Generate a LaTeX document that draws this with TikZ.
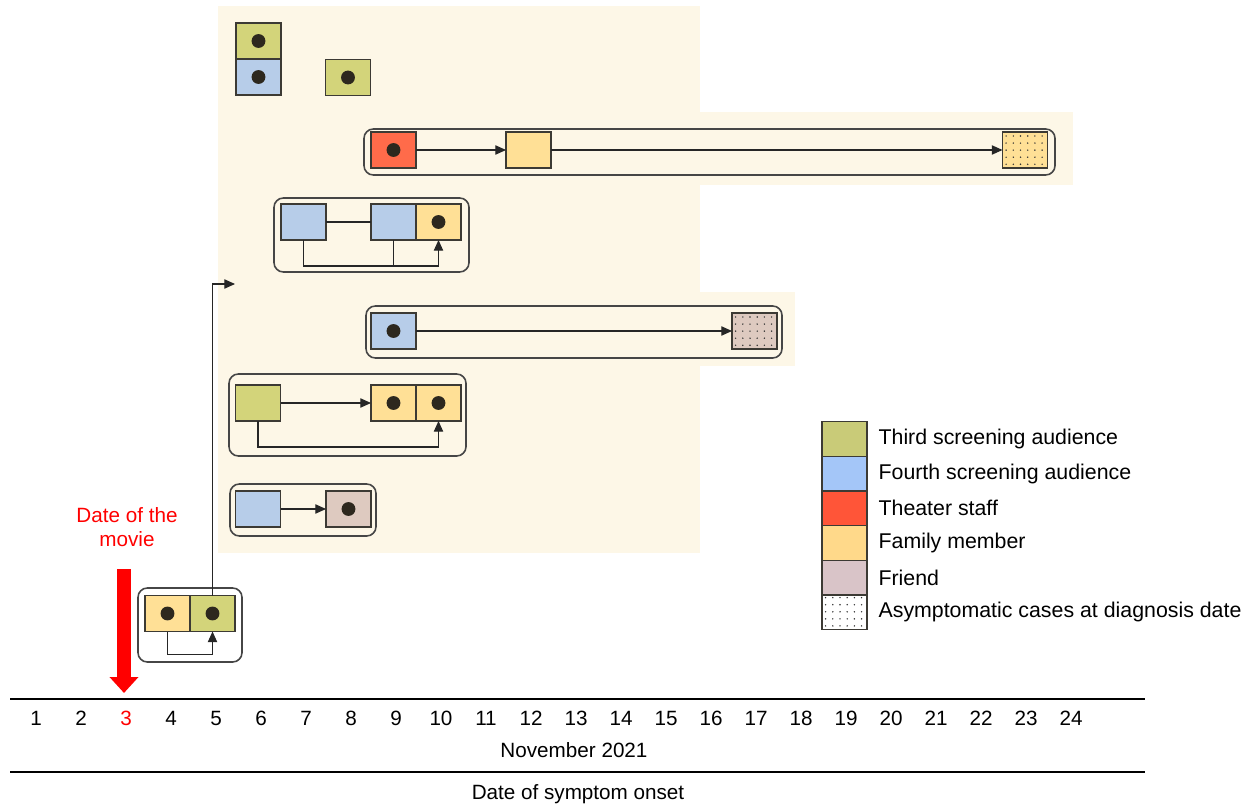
\documentclass[tikz,border=0pt]{standalone}
\usepackage{fontspec}
\setmainfont{Liberation Sans}
\usetikzlibrary{shapes,arrows,positioning,calc,arrows.meta}

\definecolor{cream}{RGB}{253,247,231}
\definecolor{boxline}{RGB}{60,58,52}
\definecolor{frameline}{RGB}{70,70,70}
\definecolor{dotcol}{RGB}{45,40,30}
\definecolor{cgreen}{RGB}{211,212,122}
\definecolor{cblue}{RGB}{183,205,233}
\definecolor{cred}{RGB}{255,107,74}
\definecolor{cyellow}{RGB}{255,224,150}
\definecolor{cfriend}{RGB}{222,202,192}
\definecolor{lgreen}{RGB}{201,203,120}
\definecolor{lblue}{RGB}{164,198,248}
\definecolor{lred}{RGB}{255,85,56}
\definecolor{lyellow}{RGB}{255,217,138}
\definecolor{lfriend}{RGB}{217,196,200}

\tikzset{
  case/.style={draw=boxline, line width=0.8pt, minimum width=33.75pt, minimum height=27pt, inner sep=0pt, outer sep=0pt},
  key/.style={case, minimum height=26pt},
  onset/.style={path picture={\fill[dotcol] (path picture bounding box.center) circle (5.2pt);}},
  asym/.style={path picture={
    \foreach \i in {1,...,6}{\foreach \j in {1,...,5}{
      \fill[black!80] ($(path picture bounding box.south west)+(\i*5.4pt-2.7pt,\j*5.3pt-2.5pt)$) circle (0.6pt);}}}},
  group/.style={draw=frameline, line width=1.2pt, rounded corners=7pt},
  link/.style={draw=black!85, line width=0.8pt, -{Triangle[length=8pt,width=7pt]}},
  plain/.style={draw=black!85, line width=0.8pt},
  txt/.style={font=\fontsize{15.5}{18.5}\selectfont, inner sep=0pt},
  legtxt/.style={font=\fontsize{16}{19}\selectfont, inner sep=0pt},
}

\begin{document}
\begin{tikzpicture}[x=0.75pt, y=-0.75pt]
\useasboundingbox (0,0) rectangle (1258,806);

% shaded period
\fill[cream] (218,6) rectangle (700,553);
\fill[cream] (218,112) rectangle (1073,185);
\fill[cream] (218,292) rectangle (795,366);

% clusters
\draw[group] (364,129) rectangle (1055,175);
\draw[group] (274,198) rectangle (469,272);
\draw[group] (366,306) rectangle (782,358);
\draw[group] (229,374) rectangle (466,456);
\draw[group] (230,484) rectangle (376,536);
\draw[group] (138,588) rectangle (242,662);

\node[case, fill=cgreen, onset] (t1) at (258.5,41) {};
\node[case, fill=cblue, onset, below=0pt of t1] (t2) {};
\node[case, fill=cgreen, onset] (t3) at (348,77.5) {};

\node[case, fill=cred, onset] (s1) at (393.5,150) {};
\node[case, fill=cyellow] (s2) at (528.5,150) {};
\node[case, fill=cyellow, asym] (s3) at (1025,150) {};
\draw[link] (s1) -- (s2);
\draw[link] (s2) -- (s3);

\node[case, fill=cblue] (a1) at (303.5,222) {};
\node[case, fill=cblue] (a2) at (393.5,222) {};
\node[case, fill=cyellow, onset, right=0pt of a2] (a3) {};
\draw[plain] (a1) -- (a2);
\draw[link] (a1.south) -- ++(0,26) -| (a3.south);
\draw[plain] (a2.south) -- ++(0,26);

\node[case, fill=cblue, onset] (p1) at (393.5,331) {};
\node[case, fill=cfriend, asym] (p2) at (754.5,331) {};
\draw[link] (p1) -- (p2);

\node[case, fill=cgreen] (g1) at (258,403) {};
\node[case, fill=cyellow, onset] (g2) at (393.5,403) {};
\node[case, fill=cyellow, onset, right=0pt of g2] (g3) {};
\draw[link] (g1) -- (g2);
\draw[link] (g1.south) -- ++(0,26) -| (g3.south);

\node[case, fill=cblue] (h1) at (258,509) {};
\node[case, fill=cfriend, onset] (h2) at (348.5,509) {};
\draw[link] (h1) -- (h2);

\node[case, fill=cyellow, onset] (b1) at (167.5,613.5) {};
\node[case, fill=cgreen, onset, right=0pt of b1] (b2) {};
\draw[link] (b1.south) -- ++(0,23) -| (b2.south);
\coordinate (spread) at (235,284);
\draw[link] (b2.north) |- (spread);

% movie date
\node[txt, text=red, align=center] (movie) at (127,527) {Date of the\\movie};
\coordinate (mvtop) at (124,569);
\coordinate (mvtip) at (124,693);
\draw[red, line width=10pt, -{Triangle[length=12pt,width=21pt]}] (mvtop) -- (mvtip);

% legend
\node[key, fill=lgreen] (k1) at (844.5,439) {};
\node[key, fill=lblue, below=0pt of k1] (k2) {};
\node[key, fill=lred, below=0pt of k2] (k3) {};
\node[key, fill=lyellow, below=0pt of k3] (k4) {};
\node[key, fill=lfriend, below=0pt of k4] (k5) {};
\node[key, fill=white, asym, below=0pt of k5] (k6) {};
\node[legtxt, right=8.5pt of k1] (l1) {Third screening audience};
\node[legtxt, right=8.5pt of k2] (l2) {Fourth screening audience};
\node[legtxt, right=8.5pt of k3] (l3) {Theater staff};
\node[legtxt, right=8.5pt of k4] (l4) {Family member};
\node[legtxt, right=8.5pt of k5] (l5) {Friend};
\node[legtxt, right=8.5pt of k6] (l6) {Asymptomatic cases at diagnosis date};

% time axis
\draw[line width=2.2pt] (10,699) -- (1145,699);
\foreach \d in {1,...,24}
  \node[txt] (day\d) at ({36+45*(\d-1)},718) {\ifnum\d=3 \color{red}\fi\d};
\node[txt] (month) at (574,750) {November 2021};
\draw[line width=1pt] (10,772) -- (1145,772);
\node[txt] (axis) at (578,794) {Date of symptom onset};
\end{tikzpicture}
\end{document}
